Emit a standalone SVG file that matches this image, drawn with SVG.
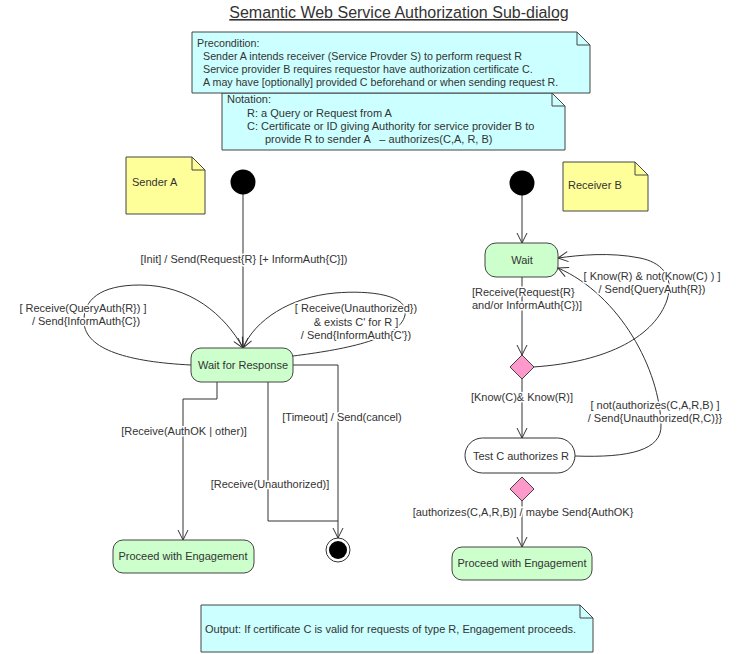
<svg xmlns="http://www.w3.org/2000/svg" width="745" height="654" viewBox="0 0 745 654">
<style>
text{font-family:"Liberation Sans",Arial,sans-serif;font-size:11px;fill:#333}
.pre{font-size:10.7px}
.lbl{stroke:#fff;stroke-width:3px;paint-order:stroke;stroke-linejoin:round}
.c{text-anchor:middle}
.note{fill:#ccffff;stroke:#444;stroke-width:1}
.ynote{fill:#ffff99;stroke:#444;stroke-width:1}
.fold{fill:none;stroke:#444;stroke-width:1}
.state{fill:#ccffcc;stroke:#444;stroke-width:1}
.dia{fill:#ff99cc;stroke:#444;stroke-width:1}
.edge{fill:none;stroke:#333;stroke-width:1}
.arr{marker-end:url(#open)}
</style>
<defs>
<marker id="open" markerUnits="userSpaceOnUse" markerWidth="12" markerHeight="12" refX="11" refY="6" orient="auto" viewBox="0 0 12 12">
<path d="M1,1 L11,6 L1,11" fill="none" stroke="#333" stroke-width="1"/>
</marker>
</defs>
<rect width="745" height="654" fill="#fff"/>
<text x="399" y="18" class="c" style="font-size:16px;text-decoration:underline">Semantic Web Service Authorization Sub-dialog</text>

<g id="note-notation">
<path class="note" d="M222,93 H552 L565,106 V150 H222 Z"/>
<path class="fold" d="M552,93 V106 H565"/>
<text x="227" y="103">Notation:</text>
<text x="247" y="117">R: a Query or Request from A</text>
<text x="247" y="130">C: Certificate or ID giving Authority for service provider B to</text>
<text x="265" y="143">provide R to sender A &#160; – authorizes(C,A, R, B)</text>
</g>
<g id="note-precondition">
<path class="note" d="M192,32 H577 L590,45 V93 H192 Z"/>
<path class="fold" d="M577,32 V45 H590"/>
<text class="pre" x="197" y="47">Precondition:</text>
<text class="pre" x="203" y="60">Sender A intends receiver (Service Provder S) to perform request R</text>
<text class="pre" x="203" y="73">Service provider B requires requestor have authorization certificate C.</text>
<text class="pre" x="203" y="86">A may have [optionally] provided C beforehand or when sending request R.</text>
</g>

<g id="note-senderA">
<path class="ynote" d="M126,157 H192 L205,170 V214 H126 Z"/>
<path class="fold" d="M192,157 V170 H205"/>
<text x="132" y="186">Sender A</text>
</g>
<g id="note-receiverB">
<path class="ynote" d="M563,162 H635 L648,175 V211 H563 Z"/>
<path class="fold" d="M635,162 V175 H648"/>
<text x="568" y="189">Receiver B</text>
</g>

<g id="connectors">
<path class="edge arr" d="M243,194 V348"/>
<path class="edge arr" d="M191,365 C130,362 85,350 84,322 C83,300 100,285 140,285 C190,285 225,315 243,348"/>
<path class="edge arr" d="M293,356 C340,350 400,340 405,315 C410,295 370,290 335,293 C290,297 255,320 243,348"/>
<path class="edge arr" d="M217,382 V399 H183 V540"/>
<path class="edge" d="M268,382 V521 H338"/>
<path class="edge arr" d="M293,365 H338 V538"/>
<path class="edge arr" d="M522,195 V243"/>
<path class="edge arr" d="M522,277 V355"/>
<path class="edge arr" d="M533,367 C610,362 655,335 667,300 C675,275 660,262 640,258 C610,252 580,255 558,258"/>
<path class="edge arr" d="M575,456 C630,458 662,450 661,425 C660,370 620,295 558,268"/>
<path class="edge arr" d="M522,379 V438"/>
<path class="edge arr" d="M522,501 V547"/>
<text class="lbl c" x="244" y="263">[Init] / Send(Request{R} [+ InformAuth{C}])</text>
<text class="lbl c" x="83" y="312">[ Receive(QueryAuth{R}) ]</text>
<text class="lbl c" x="86" y="325">/ Send{InformAuth{C})</text>
<text class="lbl c" x="356" y="312">[ Receive(Unauthorized})</text>
<text class="lbl c" x="356" y="326">&amp; exists C' for R ]</text>
<text class="lbl c" x="356" y="339">/ Send{InformAuth{C'})</text>
<text class="lbl c" x="184" y="435">[Receive(AuthOK | other)]</text>
<text class="lbl c" x="342" y="421">[Timeout] / Send(cancel)</text>
<text class="lbl c" x="270" y="488">[Receive(Unauthorized)]</text>
<text class="lbl" x="472" y="296">[Receive(Request{R}</text>
<text class="lbl" x="472" y="309">and/or InformAuth{C})]</text>
<text class="lbl c" x="652" y="280">[ Know(R) &amp; not(Know(C) ) ]</text>
<text class="lbl c" x="652" y="293">/ Send{QueryAuth{R})</text>
<text class="lbl c" x="522" y="401">[Know(C)&amp; Know(R)]</text>
<text class="lbl c" x="655" y="409">[ not(authorizes(C,A,R,B) ]</text>
<text class="lbl c" x="655" y="422">/ Send{Unauthorized(R,C)}}</text>
<text class="lbl c" x="523" y="516">[authorizes(C,A,R,B)] / maybe Send{AuthOK}</text>
</g>

<g id="initA"><circle cx="243" cy="182" r="12.5" fill="#000"/></g>
<g id="initB"><circle cx="522" cy="183" r="12.5" fill="#000"/></g>
<g id="waitResponse">
<rect class="state" x="191" y="348" width="102" height="34" rx="10"/>
<text class="c" x="243" y="369">Wait for Response</text>
</g>
<g id="proceedA">
<rect class="state" x="113" y="540" width="141" height="33" rx="10"/>
<text class="c" x="183" y="560">Proceed with Engagement</text>
</g>
<g id="finalA">
<circle cx="338" cy="550" r="12" fill="#fff" stroke="#333" stroke-width="1"/>
<circle cx="338" cy="550" r="9" fill="#000"/>
</g>
<g id="wait">
<rect class="state" x="485" y="243" width="73" height="34" rx="11"/>
<text class="c" x="522" y="264">Wait</text>
</g>
<g id="decision1"><path class="dia" d="M522,355 L534,367 L522,379 L510,367 Z"/></g>
<g id="testC">
<rect x="465" y="438" width="110" height="35" rx="17.5" fill="#fff" stroke="#333" stroke-width="1"/>
<text class="c" x="521" y="460">Test C authorizes R</text>
</g>
<g id="decision2"><path class="dia" d="M522,477 L534,489 L522,501 L510,489 Z"/></g>
<g id="proceedB">
<rect class="state" x="452" y="547" width="140" height="33" rx="10"/>
<text class="c" x="522" y="567">Proceed with Engagement</text>
</g>

<g id="note-output">
<path class="note" d="M201,605 H580 L593,618 V652 H201 Z"/>
<path class="fold" d="M580,605 V618 H593"/>
<text x="205" y="633">Output: If certificate C is valid for requests of type R, Engagement proceeds.</text>
</g>
</svg>
